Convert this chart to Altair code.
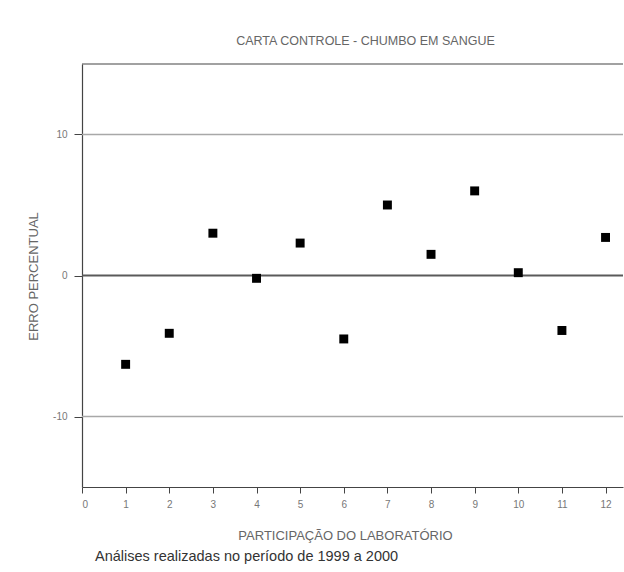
import altair as alt
import pandas as pd

# data
participacao = [1, 2, 3, 4, 5, 6, 7, 8, 9, 10, 11, 12]
erro_percentual = [-6.3, -4.1, 3.0, -0.2, 2.3, -4.5, 5.0, 1.5, 6.0, 0.2, -3.9, 2.7]
limites = [10, 0, -10]
tipos_limite = ["controle", "central", "controle"]
x_ticks = list(range(0, 13))
y_ticks = [-10, 0, 10]
titulo = "CARTA CONTROLE - CHUMBO EM SANGUE"
titulo_x = "PARTICIPAÇÃO DO LABORATÓRIO"
titulo_y = "ERRO PERCENTUAL"
legenda = ["Análises realizadas no período de 1999 a 2000"]

df = pd.DataFrame({"participacao": participacao, "erro": erro_percentual})
df_lim = pd.DataFrame({"limite": limites, "tipo": tipos_limite})
df_cap = pd.DataFrame({"texto": legenda})

FONT = "Liberation Sans"
W, H = 541, 423

x_enc = alt.X(
    "participacao:Q",
    scale=alt.Scale(domain=[0, 12.4], nice=False, zero=False),
    axis=alt.Axis(values=x_ticks, title=titulo_x, titleX=263, titleY=48,
                  titleBaseline="middle", titleAlign="center",
                  tickSize=6, labelPadding=6),
)
y_enc = alt.Y(
    "erro:Q",
    scale=alt.Scale(domain=[-15, 15], nice=False),
    axis=alt.Axis(values=y_ticks, title=titulo_y, titleX=-49, titleY=212,
                  titleAngle=-90, titleBaseline="middle", titleAlign="center",
                  tickSize=8, labelPadding=7, labelExpr="datum.value + ''"),
)

rules = alt.Chart(df_lim).mark_rule().encode(
    y=alt.Y("limite:Q", scale=alt.Scale(domain=[-15, 15], nice=False)),
    color=alt.Color("tipo:N", scale=alt.Scale(domain=["controle", "central"],
                                               range=["#a8a8a8", "#5a5a5a"]), legend=None),
    strokeWidth=alt.StrokeWidth("tipo:N", scale=alt.Scale(domain=["controle", "central"],
                                                          range=[1.5, 2]), legend=None),
)

top_border = alt.Chart(df_cap).mark_rule(color="#444", strokeWidth=1.2).encode(
    x=alt.value(0), x2=alt.value(W), y=alt.value(0)
)

points = alt.Chart(df).mark_square(size=80, color="black", opacity=1).encode(
    x=x_enc, y=y_enc
)

caption = alt.Chart(df_cap).mark_text(
    align="left", baseline="middle", fontSize=14.5, font=FONT, color="#333"
).encode(text="texto:N", x=alt.value(13), y=alt.value(493))

chart = alt.layer(rules, top_border, points, caption).properties(
    width=W,
    height=H,
    autosize=alt.AutoSizeParams(type="none"),
    padding={"left": 82, "top": 64, "right": 1, "bottom": 85},
    title=alt.TitleParams(titulo, fontSize=12.5, font=FONT, fontWeight="normal",
                          color="#666", anchor="middle", dx=13, offset=16),
).configure_view(strokeWidth=0).configure_axis(
    grid=False,
    domainColor="#444",
    domainWidth=1.2,
    tickColor="#444",
    labelColor="#777",
    labelFontSize=10,
    labelFont=FONT,
    titleFont=FONT,
    titleFontSize=13,
    titleFontWeight="normal",
    titleColor="#666",
)

chart.save("out.html", embed_options={"renderer": "svg", "actions": False})
